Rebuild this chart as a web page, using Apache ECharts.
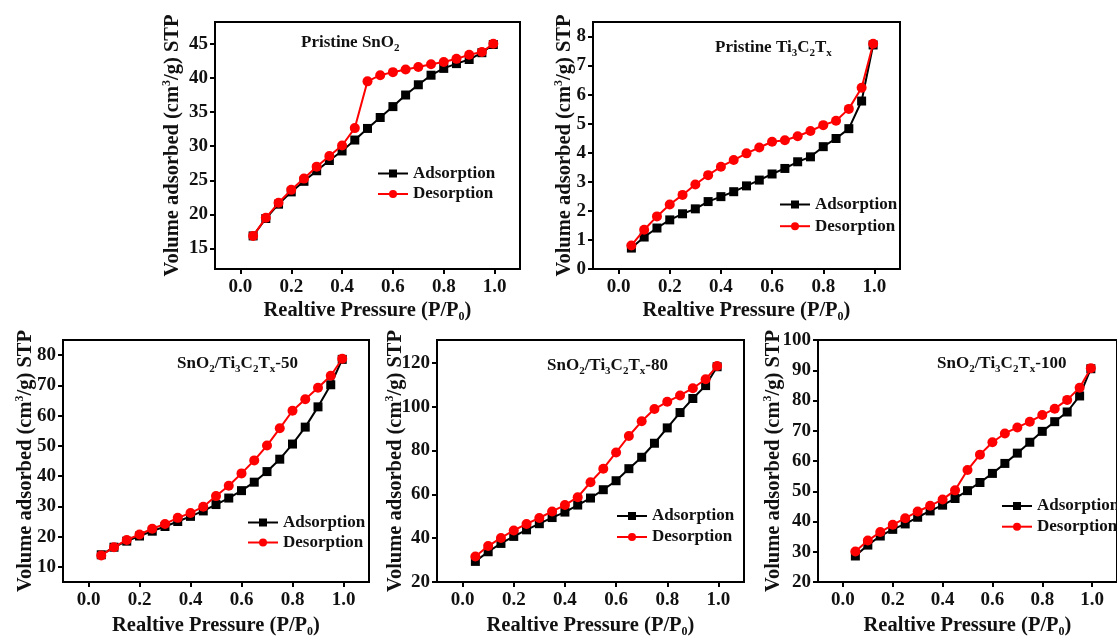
<!DOCTYPE html>
<html>
<head>
<meta charset="utf-8">
<script src="https://cdn.jsdelivr.net/npm/echarts@6/dist/echarts.min.js"></script>
<style>
  html, body { margin: 0; padding: 0; background: #fff; }
  #chart { width: 1117px; height: 639px; }
</style>
</head>
<body>
<div id="chart"></div>
<script>
// Relative pressure P/P0 of every measured point
const pressure = [0.05, 0.10, 0.15, 0.20, 0.25, 0.30, 0.35, 0.40, 0.45, 0.50,
                  0.55, 0.60, 0.65, 0.70, 0.75, 0.80, 0.85, 0.90, 0.95, 0.995];

// N2 isotherms, volume adsorbed (cm3/g STP)
const sno2Ads = [16.85, 19.4, 21.5, 23.3, 24.85, 26.4, 27.9, 29.3, 30.9, 32.6,
                 34.2, 35.8, 37.5, 39.0, 40.4, 41.4, 42.1, 42.7, 43.7, 44.9];
const sno2Des = [16.85, 19.5, 21.7, 23.6, 25.25, 27.0, 28.55, 30.1, 32.65, 39.5,
                 40.4, 40.85, 41.25, 41.6, 42.0, 42.35, 42.8, 43.4, 43.8, 45.0];

const mxeneAds = [0.72, 1.10, 1.41, 1.69, 1.90, 2.07, 2.32, 2.49, 2.66, 2.86,
                  3.06, 3.27, 3.46, 3.69, 3.86, 4.21, 4.49, 4.83, 5.78, 7.71];
const mxeneDes = [0.81, 1.35, 1.81, 2.22, 2.55, 2.91, 3.23, 3.52, 3.75, 3.98,
                  4.18, 4.38, 4.43, 4.57, 4.75, 4.95, 5.10, 5.51, 6.24, 7.75];

const comp50Ads = [14.0, 16.5, 18.5, 20.2, 21.8, 23.35, 25.0, 26.7, 28.5, 30.6,
                   32.75, 35.2, 38.0, 41.5, 45.6, 50.6, 56.2, 62.9, 70.2, 78.6];
const comp50Des = [13.8, 16.5, 18.9, 20.7, 22.6, 24.2, 26.2, 27.8, 29.9, 33.4,
                   36.8, 40.9, 45.2, 50.1, 55.8, 61.6, 65.4, 69.2, 73.2, 78.8];

const comp80Ads = [29.4, 33.8, 37.6, 40.8, 43.8, 46.6, 49.4, 51.9, 55.1, 58.3,
                   62.1, 66.2, 71.7, 76.9, 83.3, 90.3, 97.3, 103.7, 109.6, 118.2];
const comp80Des = [31.6, 36.4, 40.1, 43.5, 46.5, 49.2, 52.2, 55.1, 58.7, 65.5,
                   71.7, 79.1, 86.6, 93.3, 98.9, 102.2, 105.1, 108.4, 112.5, 118.5];

const comp100Ads = [28.6, 32.2, 35.2, 37.4, 39.2, 41.4, 43.5, 45.4, 47.6, 50.2,
                    52.9, 55.9, 59.2, 62.6, 66.2, 69.8, 73.0, 76.2, 81.5, 90.5];
const comp100Des = [30.1, 33.7, 36.5, 38.9, 41.1, 43.3, 45.2, 47.3, 50.3, 57.0,
                    62.1, 66.2, 69.1, 71.1, 73.0, 75.2, 77.3, 80.2, 84.2, 90.7];

// Tick labels
const xTicks = [0.0, 0.2, 0.4, 0.6, 0.8, 1.0];
const yTicksSnO2 = [15, 20, 25, 30, 35, 40, 45];
const yTicksMxene = [0, 1, 2, 3, 4, 5, 6, 7, 8];
const yTicks50 = [10, 20, 30, 40, 50, 60, 70, 80];
const yTicks80 = [20, 40, 60, 80, 100, 120];
const yTicks100 = [20, 30, 40, 50, 60, 70, 80, 90, 100];

// Panel titles (rich text: t = normal, s = subscript)
const panelTitles = [
  '{t|Pristine SnO}{s|2}',
  '{t|Pristine Ti}{s|3}{t|C}{s|2}{t|T}{s|x}',
  '{t|SnO}{s|2}{t|/Ti}{s|3}{t|C}{s|2}{t|T}{s|x}{t|-50}',
  '{t|SnO}{s|2}{t|/Ti}{s|3}{t|C}{s|2}{t|T}{s|x}{t|-80}',
  '{t|SnO}{s|2}{t|/Ti}{s|3}{t|C}{s|2}{t|T}{s|x}{t|-100}'
];
const seriesNames = ['Adsorption', 'Desorption'];

const FONT = '"Liberation Serif", "Times New Roman", serif';

const panels = [
  { ads: sno2Ads, des: sno2Des, yTicks: yTicksSnO2, yMin: 12, yMax: 48.2, yGap: 30, xGap: 30,
    grid: { left: 215, top: 22, width: 305, height: 247 },
    title: { left: 301, top: 32 }, legend: { left: 377, top: 165, itemGap: 3.5 } },
  { ads: mxeneAds, des: mxeneDes, yTicks: yTicksMxene, yMin: 0, yMax: 8.5, yGap: 16, xGap: 30,
    grid: { left: 593, top: 22, width: 307, height: 247 },
    title: { left: 715, top: 37 }, legend: { left: 779, top: 196, itemGap: 4.7 } },
  { ads: comp50Ads, des: comp50Des, yTicks: yTicks50, yMin: 5, yMax: 85, yGap: 25, xGap: 32,
    grid: { left: 63, top: 340, width: 306, height: 248 },
    title: { left: 177, top: 353 }, legend: { left: 247, top: 514, itemGap: 3 } },
  { ads: comp80Ads, des: comp80Des, yTicks: yTicks80, yMin: 20, yMax: 130.4, yGap: 29, xGap: 32,
    grid: { left: 437, top: 340, width: 307, height: 248 },
    title: { left: 547, top: 355 }, legend: { left: 616, top: 507.5, itemGap: 4 } },
  { ads: comp100Ads, des: comp100Des, yTicks: yTicks100, yMin: 20, yMax: 100, yGap: 32, xGap: 32,
    grid: { left: 818, top: 340, width: 307, height: 248 },
    title: { left: 937, top: 353 }, legend: { left: 1001, top: 497.5, itemGap: 3.7 } }
];

const nameRich = {
  n: { fontFamily: FONT, fontWeight: 'bold', fontSize: 20.5, lineHeight: 24, color: '#111' },
  sup: { fontFamily: FONT, fontWeight: 'bold', fontSize: 12, lineHeight: 13, verticalAlign: 'top', color: '#111' },
  sub: { fontFamily: FONT, fontWeight: 'bold', fontSize: 12, lineHeight: 13, verticalAlign: 'bottom', color: '#111' }
};
const titleRich = {
  t: { fontFamily: FONT, fontWeight: 'bold', fontSize: 17, lineHeight: 22, color: '#111' },
  s: { fontFamily: FONT, fontWeight: 'bold', fontSize: 11, lineHeight: 11, verticalAlign: 'bottom', color: '#111' }
};

const grids = [], xAxes = [], yAxes = [], series = [], titles = [], legends = [];

panels.forEach((p, i) => {
  grids.push(Object.assign({
    show: true, borderColor: '#000', borderWidth: 2, backgroundColor: 'transparent'
  }, p.grid));

  xAxes.push({
    type: 'value', gridIndex: i, min: -0.1, max: 1.1,
    name: '{n|Realtive Pressure (P/P}{sub|0}{n|)}',
    nameLocation: 'middle', nameGap: p.xGap, nameMoveOverlap: false,
    nameTextStyle: { rich: nameRich },
    axisLine: { show: true, onZero: false, lineStyle: { color: '#000', width: 2 } },
    axisTick: { show: true, inside: false, length: 5, customValues: xTicks,
                lineStyle: { color: '#000', width: 2 } },
    axisLabel: { customValues: xTicks, margin: 9, formatter: v => v.toFixed(1),
                 fontFamily: FONT, fontWeight: 'bold', fontSize: 19, color: '#111' },
    splitLine: { show: false }
  });

  yAxes.push({
    type: 'value', gridIndex: i, min: p.yMin, max: p.yMax,
    name: '{n|Volume adsorbed (cm}{sup|3}{n|/g) STP}',
    nameLocation: 'middle', nameRotate: 90, nameGap: p.yGap, nameMoveOverlap: false,
    nameTextStyle: { rich: nameRich },
    axisLine: { show: true, onZero: false, lineStyle: { color: '#000', width: 2 } },
    axisTick: { show: true, inside: false, length: 5, customValues: p.yTicks,
                lineStyle: { color: '#000', width: 2 } },
    axisLabel: { customValues: p.yTicks, margin: 7,
                 fontFamily: FONT, fontWeight: 'bold', fontSize: 19, color: '#111' },
    splitLine: { show: false }
  });

  const adsData = pressure.map((x, k) => [x, p.ads[k]]);
  const desData = pressure.map((x, k) => [x, p.des[k]]);

  series.push({
    name: seriesNames[0], type: 'line', xAxisIndex: i, yAxisIndex: i,
    data: adsData, symbol: 'rect', symbolSize: 9, showSymbol: true,
    lineStyle: { color: '#000', width: 2 }, itemStyle: { color: '#000' },
    animation: false, z: 2
  });
  series.push({
    name: seriesNames[1], type: 'line', xAxisIndex: i, yAxisIndex: i,
    data: desData, symbol: 'circle', symbolSize: 10, showSymbol: true,
    lineStyle: { color: '#ff0000', width: 2 }, itemStyle: { color: '#ff0000' },
    animation: false, z: 3
  });

  titles.push({
    text: panelTitles[i], left: p.title.left, top: p.title.top, padding: 0,
    textStyle: { rich: titleRich }
  });

  legends.push({
    data: seriesNames, orient: 'vertical', left: p.legend.left, top: p.legend.top,
    padding: 0, itemGap: p.legend.itemGap, itemWidth: 30, itemHeight: 10,
    selectedMode: false,
    textStyle: { fontFamily: FONT, fontWeight: 'bold', fontSize: 17, lineHeight: 17, color: '#111' }
  });
});

const chart = echarts.init(document.getElementById('chart'), null, { renderer: 'canvas' });

chart.setOption({
  backgroundColor: '#fff',
  animation: false,
  title: titles,
  legend: legends,
  grid: grids,
  xAxis: xAxes,
  yAxis: yAxes,
  series: series
});
</script>
</body>
</html>
